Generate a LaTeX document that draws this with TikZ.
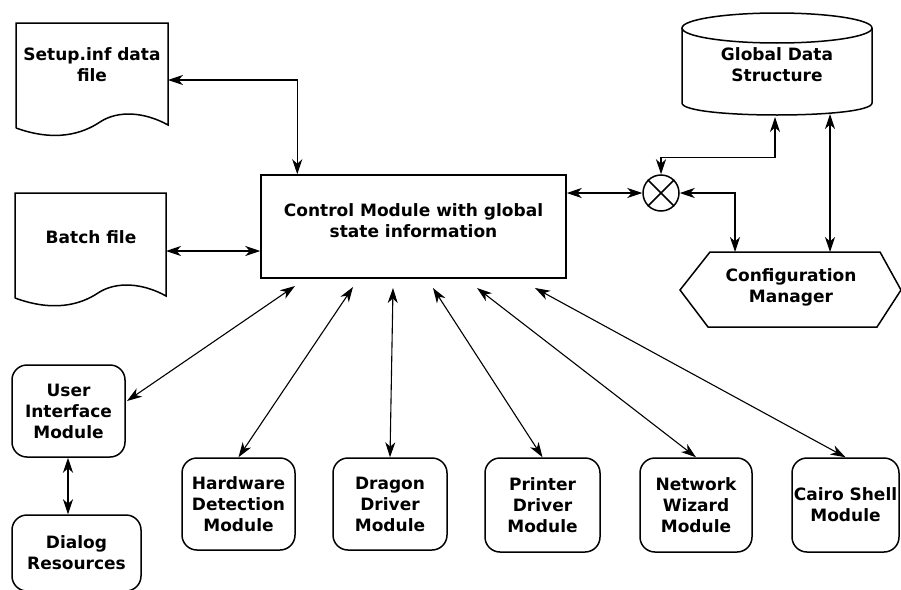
\documentclass[tikz,border=0pt]{standalone}
\usepackage{fontspec}
\setmainfont{DejaVu Sans}
\usetikzlibrary{arrows.meta,calc}
\tikzset{
  txt/.style={align=center,inner sep=0pt,font=\bfseries\fontsize{17}{21}\selectfont},
  modbox/.style={txt,draw,line width=1.5pt,rounded corners=15pt},
  shapeline/.style={line width=1.5pt},
  tip/.style={Stealth[length=15pt,width=10pt,inset=4.5pt]},
  arr/.style={line width=1.1pt,{Stealth[length=15pt,width=10pt,inset=4.5pt]}-{Stealth[length=15pt,width=10pt,inset=4.5pt]}}
}
\begin{document}
\begin{tikzpicture}[x=1pt,y=-1pt]
\clip (0,0) rectangle (901,589);
\fill[white] (0,0) rectangle (901,589);

% documents
\draw[shapeline] (16,128) -- (16,23) -- (168,23) -- (168,125)
  .. controls (145,112) and (118,110) .. (100,122)
  .. controls (82,134) and (55,142) .. (16,128);
\node[txt] (setup) at (92,65) {Setup.inf data\\file};
\coordinate (setupR) at (168,80);

\draw[shapeline] (15,298) -- (15,193) -- (166,193) -- (166,296)
  .. controls (143,283) and (116,281) .. (98,293)
  .. controls (80,305) and (53,312) .. (15,298);
\node[txt] (batch) at (91,237) {Batch file};
\coordinate (batchR) at (166,251);

% control module
\node[txt,draw,line width=1.5pt,minimum width=305pt,minimum height=103pt] (ctrl) at (413.5,226.5) {};
\node[txt] (ctrltext) at (413.5,221) {Control Module with global\\state information};

% cylinder
\draw[shapeline] (682,28) -- (682,103) .. controls (682,119) and (872,119) .. (872,103) -- (872,28);
\draw[shapeline] (777,28) ellipse [x radius=95, y radius=15];
\node[txt] (gds) at (777,65) {Global Data\\Structure};
\coordinate (gdsB1) at (775,117);
\coordinate (gdsB2) at (830,114);

% configuration manager
\draw[shapeline] (710,252) -- (880,252) -- (901,290) -- (877,327) -- (708,327) -- (680,290) -- cycle;
\node[txt] (cfg) at (791,287) {Configuration\\Manager};
\coordinate (cfgT1) at (735,252);
\coordinate (cfgT2) at (830,252);

% junction
\node[draw,circle,line width=1.5pt,minimum size=36pt,inner sep=0pt] (x) at (661,193) {};
\draw[line width=1.5pt] (x.45) -- (x.225) (x.135) -- (x.315);

% modules
\node[modbox,minimum width=113pt,minimum height=92pt] (ui) at (68.5,411) {User\\Interface\\Module};
\node[modbox,minimum width=129pt,minimum height=76pt] (dlg) at (76.5,553) {Dialog\\Resources};
\node[modbox,minimum width=113pt,minimum height=92pt] (hw) at (238.5,504) {Hardware\\Detection\\Module};
\node[modbox,minimum width=114pt,minimum height=92pt] (dr) at (390,504) {Dragon\\Driver\\Module};
\node[modbox,minimum width=115pt,minimum height=94pt] (pr) at (542.5,505) {Printer\\Driver\\Module};
\node[modbox,minimum width=112pt,minimum height=94pt] (nw) at (696,505) {Network\\Wizard\\Module};
\node[modbox,minimum width=107pt,minimum height=94pt] (cs) at (845.5,505) {Cairo Shell\\Module};

% free ends below the control module
\coordinate (c1) at (295,286);
\coordinate (c2) at (353,287);
\coordinate (c3) at (393,288);
\coordinate (c4) at (433,288);
\coordinate (c5) at (477,288);
\coordinate (c6) at (535,288);
\coordinate (uiE) at (127,401);

% connectors
\draw[arr] (setupR) -| ($(ctrl.north west)+(37,0)$);
\draw[arr] (batchR) -- (batchR -| ctrl.west);
\draw[arr] (ctrl.east |- x.west) -- (x.west);
\draw[arr] (x.north) -- ++(0,-17) -| (gdsB1);
\draw[arr] (x.east) -| (cfgT1);
\draw[arr] (gdsB2) -- (cfgT2);
\draw[arr] (c1) -- (uiE);
\draw[arr] (c2) -- (hw.north);
\draw[arr] (c3) -- (dr.north);
\draw[arr] (c4) -- (pr.north);
\draw[arr] (c5) -- (nw.north);
\draw[arr] (c6) -- (cs.north);
\draw[arr] (ui.south -| 68,0) -- (dlg.north -| 68,0);
\end{tikzpicture}
\end{document}
